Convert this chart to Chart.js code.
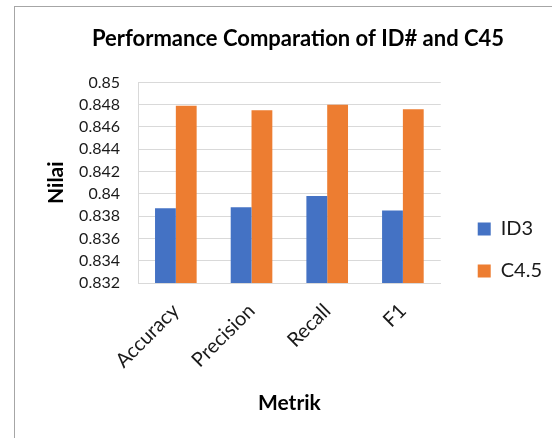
<!DOCTYPE html>
<html>
<head>
<meta charset="utf-8">
<script src="https://cdn.jsdelivr.net/npm/chart.js@4"></script>
<style>
  body { margin: 0; background: #fff; }
  #frame { position: absolute; left: 14px; top: 6px; width: 560px; height: 450px; border: 1px solid #a6a6a6; }
  #wrap { position: absolute; left: 0; top: 0; width: 552px; height: 438px; }
</style>
</head>
<body>
<div id="frame"></div>
<div id="wrap"><canvas id="myChart" width="552" height="438"></canvas></div>
<script>
const metrik = ['Accuracy', 'Precision', 'Recall', 'F1'];
const nilaiID3 = [0.8387, 0.8388, 0.8398, 0.8385];
const nilaiC45 = [0.8479, 0.8475, 0.8480, 0.8476];

const fonte = "Lato, 'Open Sans', sans-serif";
const corTexto = '#1a1a1a';

const ctx = document.getElementById('myChart').getContext('2d');
new Chart(ctx, {
  type: 'bar',
  data: {
    labels: metrik,
    datasets: [
      { label: 'ID3', data: nilaiID3, backgroundColor: '#4472c4', yAxisID: 'y' },
      { label: 'C4.5', data: nilaiC45, backgroundColor: '#ed7d31', yAxisID: 'y' }
    ]
  },
  options: {
    responsive: false,
    animation: false,
    layout: { padding: { left: 44, right: 0, top: 0, bottom: 0 } },
    datasets: { bar: { categoryPercentage: 0.55, barPercentage: 1.0 } },
    plugins: {
      title: {
        display: true,
        text: 'Performance Comparation of ID# and C45',
        color: '#000',
        font: { family: fonte, size: 22, weight: 'bold' },
        padding: { top: 26, bottom: 30 }
      },
      legend: {
        position: 'right',
        maxWidth: 100,
        title: { display: true, text: '', font: { size: 10 }, padding: { top: 50, bottom: 0 } },
        labels: {
          color: corTexto,
          font: { family: fonte, size: 20 },
          boxWidth: 13,
          boxHeight: 13,
          padding: 22
        }
      },
      tooltip: { enabled: false }
    },
    scales: {
      x: {
        grid: { display: false },
        border: { color: '#d9d9d9' },
        afterFit: s => { s.height = 155; },
        ticks: {
          color: corTexto,
          font: { family: fonte, size: 20 },
          padding: 8,
          minRotation: 45,
          maxRotation: 45
        },
        title: {
          display: true,
          text: 'Metrik',
          color: '#000',
          font: { family: fonte, size: 21, weight: 'bold' },
          padding: { top: 4, bottom: 22 }
        }
      },
      y: {
        min: 0.832,
        max: 0.85,
        afterFit: s => { s.width = 94; },
        grid: { color: '#d9d9d9', drawTicks: false },
        border: { color: '#d9d9d9' },
        ticks: {
          stepSize: 0.002,
          color: corTexto,
          padding: 18,
          font: { family: fonte, size: 16 },
          callback: v => String(Number(v.toFixed(3)))
        },
        title: {
          display: true,
          text: 'Nilai',
          color: '#000',
          font: { family: fonte, size: 21, weight: 'bold' },
          padding: { top: 0, bottom: 0 }
        }
      },
      folga: {
        position: 'right',
        afterFit: s => { s.width = 15; },
        grid: { display: false },
        border: { display: false },
        ticks: { display: false }
      }
    }
  }
});
</script>
</body>
</html>
